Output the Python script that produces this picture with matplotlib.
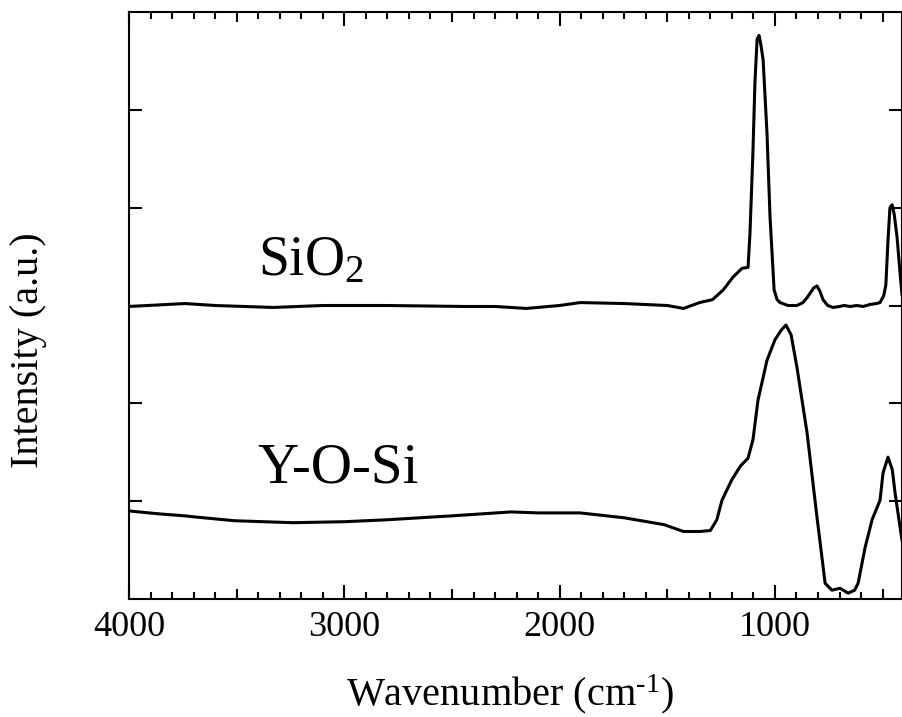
import matplotlib
matplotlib.use("Agg")
import matplotlib.pyplot as plt
from matplotlib.ticker import FixedLocator, MultipleLocator, NullFormatter

plt.rcParams['font.family'] = ['Liberation Serif', 'DejaVu Serif']
plt.rcParams['mathtext.fontset'] = 'custom'
plt.rcParams['mathtext.rm'] = 'Liberation Serif'
plt.rcParams['mathtext.it'] = 'Liberation Serif:italic'

# SiO2 spectrum (offset by 3)
sio2_wn = [4000, 3740, 3600, 3330, 3100, 2800, 2440, 2300, 2155, 2000, 1905,
           1700, 1500, 1425, 1350, 1290, 1240, 1195, 1153, 1125, 1116, 1102,
           1093, 1083, 1074, 1065, 1055, 1037, 1023, 1004, 990, 976, 940, 898,
           870, 851, 820, 805, 790, 777, 755, 730, 700, 680, 650, 620, 590,
           560, 530, 512, 495, 485, 475, 466, 456, 446, 433, 419, 410]
sio2_int = [2.99, 3.02, 3.00, 2.98, 3.00, 3.00, 2.99, 2.99, 2.97, 3.00, 3.03,
            3.02, 3.00, 2.97, 3.03, 3.06, 3.16, 3.29, 3.38, 3.39, 3.74, 4.59,
            5.28, 5.72, 5.76, 5.66, 5.51, 4.76, 3.91, 3.16, 3.06, 3.03, 3.00, 3.00,
            3.03, 3.08, 3.18, 3.20, 3.14, 3.06, 3.00, 2.98, 2.99, 3.00, 2.99, 3.00, 2.99,
            3.01, 3.02, 3.03, 3.10, 3.21, 3.67, 4.00, 4.03, 3.93, 3.70, 3.33, 3.11]

# Y-O-Si spectrum
yosi_wn = [4000, 3860, 3740, 3700, 3510, 3240, 3000, 2800, 2500, 2225, 2100,
           1905, 1700, 1515, 1425, 1350, 1300, 1270, 1246, 1200, 1160, 1125,
           1102, 1079, 1037, 1000, 970, 949, 925, 898, 851, 805, 767, 735, 698,
           660, 630, 614, 581, 549, 512, 498, 475, 455, 442, 410]
yosi_int = [0.90, 0.87, 0.85, 0.84, 0.80, 0.78, 0.79, 0.81, 0.85, 0.89, 0.88,
            0.88, 0.83, 0.76, 0.69, 0.69, 0.70, 0.81, 1.01, 1.22, 1.36, 1.44,
            1.63, 2.03, 2.44, 2.65, 2.75, 2.80, 2.70, 2.37, 1.70, 0.84, 0.16, 0.09, 0.11,
            0.06, 0.09, 0.16, 0.53, 0.81, 1.01, 1.29, 1.45, 1.32, 1.08, 0.60]

labels = ['SiO$_2$', 'Y-O-Si']

fig = plt.figure(figsize=(9.02, 7.17), dpi=100)
ax = fig.add_axes([129/902, 1 - 599/717, 773/902, 587/717])

ax.plot(sio2_wn, sio2_int, color='black', lw=2.2)
ax.plot(yosi_wn, yosi_int, color='black', lw=2.2)

ax.text(3400, 3.31, labels[0], fontsize=40, ha='left', va='baseline')
ax.text(3405, 1.19, labels[1], fontsize=41, ha='left', va='baseline')

ax.set_xlim(4000, 410)
ax.set_ylim(0, 6)

major = [4000, 3500, 3000, 2500, 2000, 1500, 1000, 500]
ax.xaxis.set_major_locator(FixedLocator(major))
ax.set_xticklabels([str(v) if v % 1000 == 0 else '' for v in major])
ax.xaxis.set_minor_locator(MultipleLocator(100))
ax.yaxis.set_major_locator(FixedLocator([1, 2, 3, 4, 5]))
ax.yaxis.set_major_formatter(NullFormatter())

ax.tick_params(axis='x', which='major', direction='in', top=True, bottom=True,
               length=10, width=1.5, labelsize=26, pad=9)
ax.tick_params(axis='x', which='minor', direction='in', top=True, bottom=True,
               length=5, width=1.5)
ax.tick_params(axis='y', which='major', direction='in', left=True, right=True,
               length=9.5, width=1.5)
for v, t in zip(major, ax.xaxis.get_major_ticks()):
    if v % 1000 != 0:
        t.tick1line.set_markersize(7)
        t.tick2line.set_markersize(7)

for s in ax.spines.values():
    s.set_linewidth(1.5)

fig.text(510/902, 1 - 705/717, 'Wavenumber (cm$^{\\text{-1}}$)', fontsize=29,
         ha='center', va='baseline')
fig.text(29/902, 1 - 350/717, 'Intensity (a.u.)', fontsize=29, rotation=90,
         ha='center', va='center')

fig.savefig('out.png', dpi=100)
